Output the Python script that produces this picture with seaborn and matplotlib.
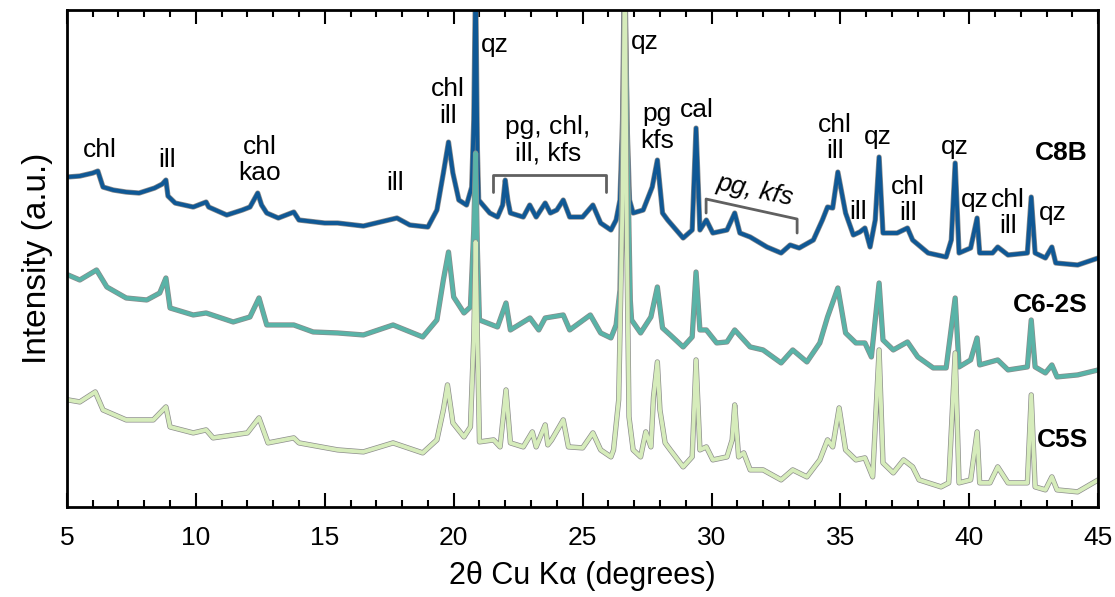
import matplotlib
matplotlib.use("Agg")
import matplotlib.pyplot as plt
import matplotlib.patheffects as pe
from matplotlib import font_manager
from matplotlib.ticker import MultipleLocator
import seaborn as sns

# XRD patterns, values (stacked, arbitrary units)
c8b_x = [5.0, 5.5, 6.0, 6.2, 6.4, 6.8, 7.3, 7.8, 8.4, 8.7, 8.84, 8.92, 9.2, 9.9, 10.4, 10.5,
         11.2, 11.8, 12.1, 12.4, 12.55, 12.75, 13.2, 13.8, 14.0, 15.0, 15.5, 16.5, 17.8, 18.3,
         19.0, 19.35, 19.6, 19.8, 19.97, 20.2, 20.5, 20.7, 20.78, 20.85, 20.92, 20.97, 21.4,
         21.7, 21.9, 22.0, 22.1, 22.2, 22.7, 22.95, 23.2, 23.55, 23.75, 24.0, 24.25, 24.5,
         25.0, 25.4, 25.7, 26.1, 26.3, 26.45, 26.55, 26.62, 26.72, 26.82, 26.96, 27.35, 27.7,
         27.9, 28.1, 28.3, 28.9, 29.25, 29.4, 29.55, 29.8, 30.05, 30.6, 30.9, 31.1, 31.5,
         32.15, 32.7, 33.05, 33.4, 33.95, 34.3, 34.5, 34.7, 34.9, 35.2, 35.5, 35.75, 35.95,
         36.15, 36.35, 36.5, 36.65, 37.2, 37.6, 37.8, 38.4, 39.1, 39.3, 39.45, 39.6, 40.05,
         40.3, 40.4, 40.9, 41.1, 41.5, 42.25, 42.4, 42.55, 42.95, 43.2, 43.35, 44.2, 45.0]
c8b_y = [330, 331, 334, 336, 320, 317, 315, 314, 319, 323, 327, 311, 304, 300, 305, 300,
         292, 297, 300, 314, 302, 294, 289, 295, 287, 284, 284, 281, 289, 282,
         280, 297, 334, 365, 334, 307, 302, 320, 387, 530, 357, 307, 294,
         290, 302, 327, 307, 294, 290, 302, 290, 304, 294, 297, 307, 290,
         290, 302, 284, 277, 287, 307, 387, 540, 387, 307, 294, 297, 320,
         347, 294, 287, 269, 277, 379, 277, 287, 274, 277, 294, 274, 270,
         260, 254, 262, 259, 267, 287, 300, 299, 335, 294, 272, 275, 279,
         260, 287, 350, 274, 274, 279, 267, 254, 250, 267, 344, 254, 259,
         289, 254, 254, 260, 252, 254, 310, 254, 249, 260, 244, 242, 249]

c6_x = [5.05, 5.5, 6.15, 6.55, 7.3, 8.1, 8.6, 8.84, 9.0, 9.9, 10.4, 11.45, 12.1, 12.45, 12.75,
        13.8, 14.55, 15.5, 16.5, 17.65, 18.8, 19.35, 19.6, 19.8, 20.0, 20.4, 20.65, 20.78,
        20.85, 20.92, 21.0, 21.7, 22.03, 22.2, 22.96, 23.3, 23.55, 24.25, 24.5, 25.3, 25.7,
        26.1, 26.3, 26.45, 26.55, 26.64, 26.74, 26.85, 26.9, 27.25, 27.65, 27.9, 28.1, 28.4,
        28.9, 29.25, 29.4, 29.55, 29.8, 30.2, 30.6, 30.9, 31.5, 32.0, 32.7, 33.15, 33.7,
        34.2, 34.5, 34.9, 35.2, 35.6, 35.95, 36.2, 36.5, 36.65, 37.05, 37.6, 38.0, 38.6,
        39.1, 39.45, 39.6, 40.05, 40.3, 40.4, 41.1, 41.5, 42.25, 42.4, 42.55, 42.95, 43.2,
        43.4, 44.2, 45.0]
c6_y = [232, 227, 237, 220, 209, 207, 214, 229, 199, 192, 194, 185, 190, 209, 182,
        182, 175, 174, 172, 182, 170, 187, 227, 255, 210, 194, 200, 277,
        354, 257, 187, 180, 204, 177, 189, 177, 189, 192, 177, 192, 174,
        169, 182, 217, 357, 540, 357, 207, 187, 174, 190, 220, 179, 172,
        160, 170, 235, 177, 177, 164, 165, 177, 160, 157, 144, 157, 145,
        164, 190, 219, 174, 164, 164, 150, 224, 167, 157, 165, 150, 139,
        139, 209, 140, 147, 169, 142, 147, 137, 140, 187, 140, 134, 142,
        130, 132, 137]

c5_x = [5.05, 5.5, 6.1, 6.4, 7.3, 8.35, 8.84, 9.0, 9.9, 10.4, 10.67, 12.0, 12.45, 12.8, 13.8,
        14.0, 15.5, 16.5, 17.65, 18.8, 19.35, 19.6, 19.76, 19.97, 20.4, 20.65, 20.78, 20.85,
        20.92, 21.0, 21.55, 21.8, 22.03, 22.2, 22.7, 23.05, 23.2, 23.55, 23.65, 23.8, 24.25,
        24.45, 25.0, 25.4, 25.7, 26.1, 26.2, 26.4, 26.55, 26.64, 26.72, 26.8, 26.96, 27.25,
        27.45, 27.65, 27.75, 27.9, 28.0, 28.2, 28.4, 28.9, 29.25, 29.4, 29.55, 29.8, 30.05,
        30.6, 30.8, 30.9, 31.05, 31.25, 31.5, 32.0, 32.7, 33.15, 33.7, 34.2, 34.5, 34.7,
        34.95, 35.2, 35.6, 35.95, 36.25, 36.5, 36.65, 37.05, 37.45, 37.8, 38.05, 38.9, 39.2,
        39.45, 39.6, 40.05, 40.3, 40.4, 40.8, 41.1, 41.5, 42.25, 42.4, 42.55, 42.95, 43.2,
        43.4, 44.2, 45.0]
c5_y = [107, 105, 115, 97, 87, 87, 100, 80, 74, 77, 69, 74, 89, 64, 69,
        64, 57, 55, 64, 54, 67, 97, 122, 84, 70, 80, 170, 265,
        170, 65, 67, 60, 117, 64, 60, 75, 60, 82, 62, 67, 87,
        60, 59, 74, 57, 50, 57, 107, 307, 540, 257, 90, 57, 50,
        75, 60, 110, 145, 97, 64, 57, 40, 50, 147, 57, 60, 47,
        50, 67, 102, 50, 54, 37, 37, 27, 37, 30, 47, 67, 60,
        99, 57, 47, 49, 30, 157, 44, 34, 47, 40, 27, 20, 24,
        154, 24, 27, 75, 24, 24, 40, 24, 24, 112, 20, 17, 30,
        17, 15, 27]

samples = ["C8B", "C6-2S", "C5S"]
colors = ["#0f5895", "#59b3a7", "#d6ecbb"]
sample_label_y = [354, 202, 67]

# phase labels: (text, x, y)
peak_labels = [("chl", 6.28, 357), ("ill", 8.88, 347), ("chl\nkao", 12.49, 347),
               ("ill", 17.73, 324), ("chl\nill", 19.78, 405), ("qz", 21.6, 462),
               ("pg, chl,\nill, kfs", 23.66, 367), ("qz", 27.43, 465), ("pg\nkfs", 27.89, 380),
               ("cal", 29.44, 397), ("chl\nill", 34.8, 369), ("ill", 35.69, 295),
               ("qz", 36.46, 370), ("chl\nill", 37.63, 307), ("qz", 39.45, 360),
               ("qz", 40.23, 307), ("chl\nill", 41.51, 294), ("qz", 43.25, 294)]

sns.set_style("ticks")
names = {f.name for f in font_manager.fontManager.ttflist}
narrow = "Liberation Sans Narrow" if "Liberation Sans Narrow" in names else "Liberation Sans"
plt.rcParams["font.family"] = ["Liberation Sans", "DejaVu Sans"]
plt.rcParams["text.color"] = "black"
plt.rcParams["axes.labelcolor"] = "black"
plt.rcParams["xtick.color"] = "black"

fig = plt.figure(figsize=(11.15, 5.97), dpi=100)
ax = fig.add_axes([0.060, 0.151, 0.925, 0.832])

traces = [(c8b_x, c8b_y), (c6_x, c6_y), (c5_x, c5_y)]
for (xs, ys), col in zip(traces, colors):
    sns.lineplot(x=xs, y=ys, ax=ax, color=col, lw=2.8, sort=False, estimator=None,
                 path_effects=[pe.Stroke(linewidth=3.8, foreground="#8c8c8c"), pe.Normal()])

for txt, x, y in peak_labels:
    ax.text(x, y, txt, ha="center", va="center", fontsize=19, linespacing=1.15)
ax.text(31.69, 317, "pg, kfs", ha="center", va="center", fontsize=19, style="italic",
        rotation=-12)

# brackets
ax.plot([21.53, 21.53, 25.91, 25.91], [315, 332, 332, 315], color="#606060", lw=2)
ax.plot([29.79, 29.79, 33.32, 33.32], [294, 308, 288, 274], color="#606060", lw=2)

for name, y in zip(samples, sample_label_y):
    ax.text(44.6, y, name, ha="right", va="center", fontsize=19, fontweight="bold")

ax.set_xlim(5, 45)
ax.set_ylim(0, 497)
ax.xaxis.set_major_locator(MultipleLocator(5))
ax.xaxis.set_minor_locator(MultipleLocator(1))
ax.tick_params(axis="x", which="both", direction="in", top=True, bottom=True, width=1.5)
ax.tick_params(axis="x", which="major", length=10, pad=14)
ax.tick_params(axis="x", which="minor", length=5)
ax.set_yticks([])
for lab in ax.get_xticklabels():
    lab.set_family(narrow)
    lab.set_fontsize(19)
for s in ax.spines.values():
    s.set_linewidth(2)
    s.set_color("black")
ax.set_xlabel("2θ Cu Kα (degrees)", fontsize=22, labelpad=8)
ax.set_ylabel("Intensity (a.u.)", fontsize=24, labelpad=10)

fig.savefig("out.png", dpi=100)
